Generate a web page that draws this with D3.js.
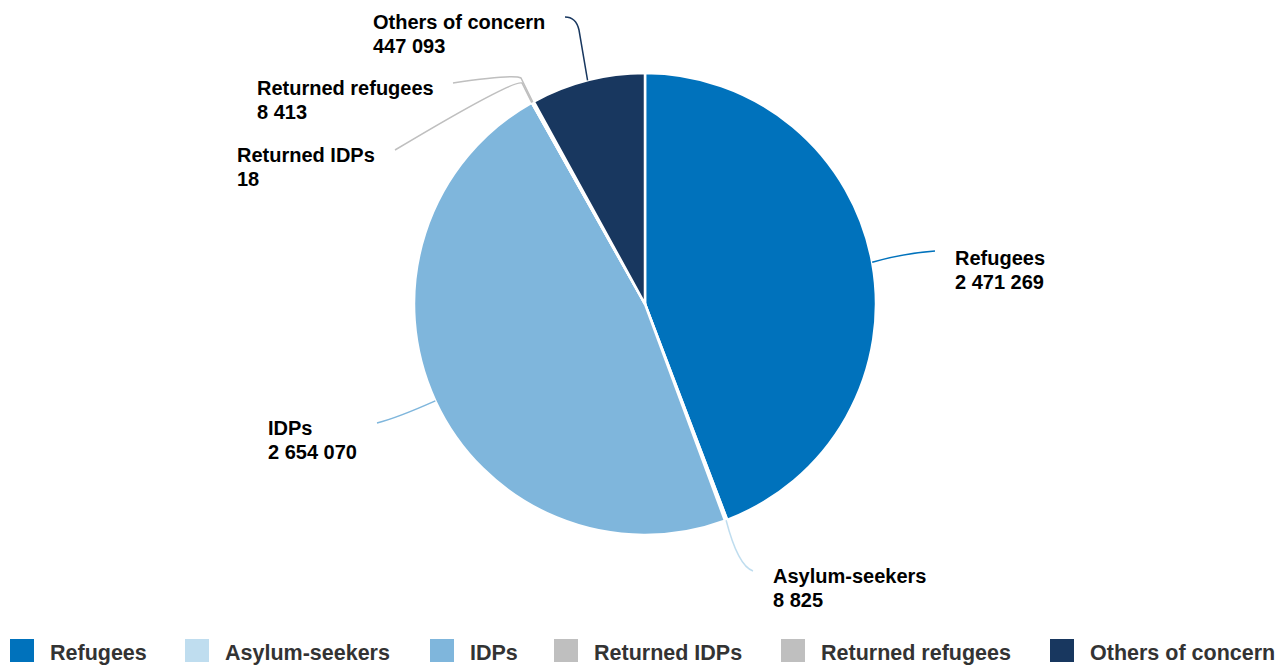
<!DOCTYPE html>
<html><head><meta charset="utf-8">
<script src="https://cdn.jsdelivr.net/npm/d3@7"></script>
<style>body{margin:0;background:#fff;font-family:"Liberation Sans",Arial,sans-serif;}</style>
</head><body><svg id="c" width="1282" height="665"></svg>
<script>
const categories = ["Refugees","Asylum-seekers","IDPs","Returned IDPs","Returned refugees","Others of concern"];
const values = [2471269, 8825, 2654070, 18, 8413, 447093];
const valueLabels = ["2 471 269","8 825","2 654 070","18","8 413","447 093"];
const colors = ["#0072BC","#BFDDEF","#7FB6DC","#BFBFBF","#BFBFBF","#18375F"];
const lineColors = ["#0072BC","#BFDDEF","#7FB6DC","#BFBFBF","#BFBFBF","#18375F"];
// label layout: text anchor position (x, first baseline), line control/end points
const labelLayout = [
  {tx:955, ty:265, path:[[900,254],[935,251]]},
  {tx:773, ty:583, path:[[738,566],[753,571]]},
  {tx:268, ty:435, path:[[397,418],[377,423]]},
  {tx:237, ty:162, path:[[522,83],[512,80],[395,150]]},
  {tx:257, ty:95, path:[[521,78],[514,74],[453,83]]},
  {tx:373, ty:29, path:[[579,30],[576,17],[565,17]]}
];

const svg = d3.select("#c");
const cx = 645, cy = 304, R = 231;
const data = categories.map((c,i)=>({name:c, value:values[i], label:valueLabels[i], color:colors[i], i}));
const pie = d3.pie().value(d=>d.value).sort(null);
const arcs = pie(data);
const arc = d3.arc().innerRadius(0).outerRadius(R);
const g = svg.append("g").attr("transform",`translate(${cx},${cy})`);
g.selectAll("path").data(arcs).join("path")
  .attr("d",arc).attr("fill",d=>d.data.color)
  .attr("stroke","#fff").attr("stroke-width",2.5).attr("stroke-linejoin","round");

arcs.forEach((a,i)=>{
  const mid=(a.startAngle+a.endAngle)/2;
  const sx=cx+R*Math.sin(mid), sy=cy-R*Math.cos(mid);
  const L=labelLayout[i];
  const p=d3.path();
  p.moveTo(sx,sy);
  const pts=L.path;
  if(pts.length===2){ p.quadraticCurveTo(pts[0][0],pts[0][1],pts[1][0],pts[1][1]); }
  else { p.lineTo(pts[0][0],pts[0][1]); p.quadraticCurveTo(pts[1][0],pts[1][1],pts[2][0],pts[2][1]); }
  svg.append("path").attr("d",p.toString()).attr("fill","none")
    .attr("stroke",lineColors[i]).attr("stroke-width",1.5);
  const t=svg.append("text").attr("x",L.tx).attr("y",L.ty)
    .attr("font-size",20).attr("font-weight","bold").attr("fill","#000");
  t.append("tspan").attr("x",L.tx).text(a.data.name);
  t.append("tspan").attr("x",L.tx).attr("dy",24).text(a.data.label);
});

const legendX=[10,185,430,554,781,1050];
const lg=svg.append("g");
data.forEach((d,i)=>{
  lg.append("rect").attr("x",legendX[i]).attr("y",639).attr("width",24).attr("height",23).attr("fill",d.color);
  lg.append("text").attr("x",legendX[i]+40).attr("y",660).attr("font-size",21.5).attr("font-weight","bold")
    .attr("fill","#333").text(d.name);
});
</script></body></html>
